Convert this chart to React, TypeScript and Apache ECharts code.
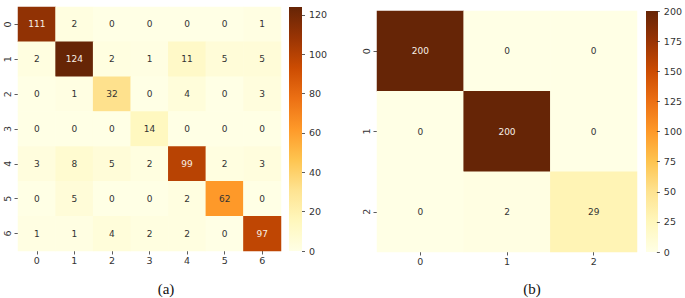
import React, { useEffect, useRef } from "react";
import * as echarts from "echarts";

// ---- data ----
const classesA = ["0", "1", "2", "3", "4", "5", "6"];
const matrixA = [
  [111, 2, 0, 0, 0, 0, 1],
  [2, 124, 2, 1, 11, 5, 5],
  [0, 1, 32, 0, 4, 0, 3],
  [0, 0, 0, 14, 0, 0, 0],
  [3, 8, 5, 2, 99, 2, 3],
  [0, 5, 0, 0, 2, 62, 0],
  [1, 1, 4, 2, 2, 0, 97],
];
const classesB = ["0", "1", "2"];
const matrixB = [
  [200, 0, 0],
  [0, 200, 0],
  [0, 2, 29],
];
const scaleMaxA = 124;
const scaleStepA = 20;
const scaleMaxB = 200;
const scaleStepB = 25;
const captions = ["(a)", "(b)"];

const YlOrBr = [
  "#ffffe5", "#fff7bc", "#fee391", "#fec44f", "#fe9929",
  "#ec7014", "#cc4c02", "#993404", "#662506",
];

const TEXT = "#333333";
const FONT = "DejaVu Sans";

function cells(matrix: number[][], max: number) {
  const out: any[] = [];
  matrix.forEach((row, r) =>
    row.forEach((v, c) => {
      out.push({
        value: [c, r, v],
        label: { color: v / max > 0.6 ? "#f7f0e6" : "#333333" },
      });
    })
  );
  return out;
}

function catAxis(gridIndex: number, data: string[], isY: boolean) {
  return {
    type: "category",
    gridIndex,
    data,
    inverse: isY,
    axisLine: { show: false, onZero: false },
    axisTick: {
      show: true,
      alignWithLabel: true,
      length: 3.5,
      lineStyle: { color: TEXT, width: 0.8 },
    },
    axisLabel: {
      color: TEXT,
      fontSize: 9.5,
      fontFamily: FONT,
      margin: isY ? 6 : 4,
      rotate: isY ? 90 : 0,
    },
    splitLine: { show: false },
    splitArea: { show: false },
  };
}

function barAxisX(gridIndex: number) {
  return { type: "value", gridIndex, show: false, min: 0, max: 1 };
}

function barAxisY(gridIndex: number, max: number, step: number) {
  return {
    type: "value",
    gridIndex,
    position: "right",
    min: 0,
    max,
    interval: step,
    axisLine: { show: false, onZero: false },
    axisTick: { show: true, length: 3, lineStyle: { color: TEXT, width: 0.8 } },
    axisLabel: {
      color: TEXT,
      fontSize: 9.5,
      fontFamily: FONT,
      margin: 7,
      showMaxLabel: max % step === 0,
    },
    splitLine: { show: false },
  };
}

function colorbarRect(x: number, y: number, w: number, h: number) {
  return {
    type: "rect",
    shape: { x, y, width: w, height: h },
    silent: true,
    z: -1,
    style: {
      fill: new echarts.graphic.LinearGradient(
        0, 1, 0, 0,
        YlOrBr.map((c, i) => ({ offset: i / (YlOrBr.length - 1), color: c }))
      ),
    },
  };
}

function caption(text: string, x: number) {
  return {
    type: "text",
    x,
    y: 289,
    style: {
      text,
      font: "15px 'Liberation Serif'",
      fill: "#111111",
      textAlign: "center",
      textVerticalAlign: "middle",
    },
  };
}

export default function App() {
  const ref = useRef<HTMLDivElement>(null);
  useEffect(() => {
    if (!ref.current) return;
    const chart = echarts.init(ref.current, undefined, { renderer: "svg" });
    const option: any = {
      animation: false,
      backgroundColor: "#ffffff",
      textStyle: { fontFamily: FONT },
      grid: [
        { left: 18, top: 7, width: 263, height: 244 },
        { left: 289, top: 7, width: 13, height: 244 },
        { left: 377, top: 11, width: 260, height: 241 },
        { left: 646, top: 11, width: 12, height: 241 },
      ],
      xAxis: [
        catAxis(0, classesA, false),
        barAxisX(1),
        catAxis(2, classesB, false),
        barAxisX(3),
      ],
      yAxis: [
        catAxis(0, classesA, true),
        barAxisY(1, scaleMaxA, scaleStepA),
        catAxis(2, classesB, true),
        barAxisY(3, scaleMaxB, scaleStepB),
      ],
      visualMap: [
        {
          type: "continuous",
          show: false,
          seriesIndex: 0,
          min: 0,
          max: scaleMaxA,
          inRange: { color: YlOrBr },
        },
        {
          type: "continuous",
          show: false,
          seriesIndex: 1,
          min: 0,
          max: scaleMaxB,
          inRange: { color: YlOrBr },
        },
      ],
      series: [
        {
          type: "heatmap",
          xAxisIndex: 0,
          yAxisIndex: 0,
          data: cells(matrixA, scaleMaxA),
          label: {
            show: true,
            fontSize: 9,
            fontFamily: FONT,
            formatter: (p: any) => String(p.value[2]),
          },
        },
        {
          type: "heatmap",
          xAxisIndex: 2,
          yAxisIndex: 2,
          data: cells(matrixB, scaleMaxB),
          label: {
            show: true,
            fontSize: 9,
            fontFamily: FONT,
            formatter: (p: any) => String(p.value[2]),
          },
        },
      ],
      graphic: [
        colorbarRect(289, 7, 13, 244),
        colorbarRect(646, 11, 12, 241),
        caption(captions[0], 166),
        caption(captions[1], 532),
      ],
    };
    chart.setOption(option);
    return () => chart.dispose();
  }, []);
  return (
    <div
      ref={ref}
      style={{ position: "fixed", left: 0, top: 0, width: 685, height: 298 }}
    />
  );
}
